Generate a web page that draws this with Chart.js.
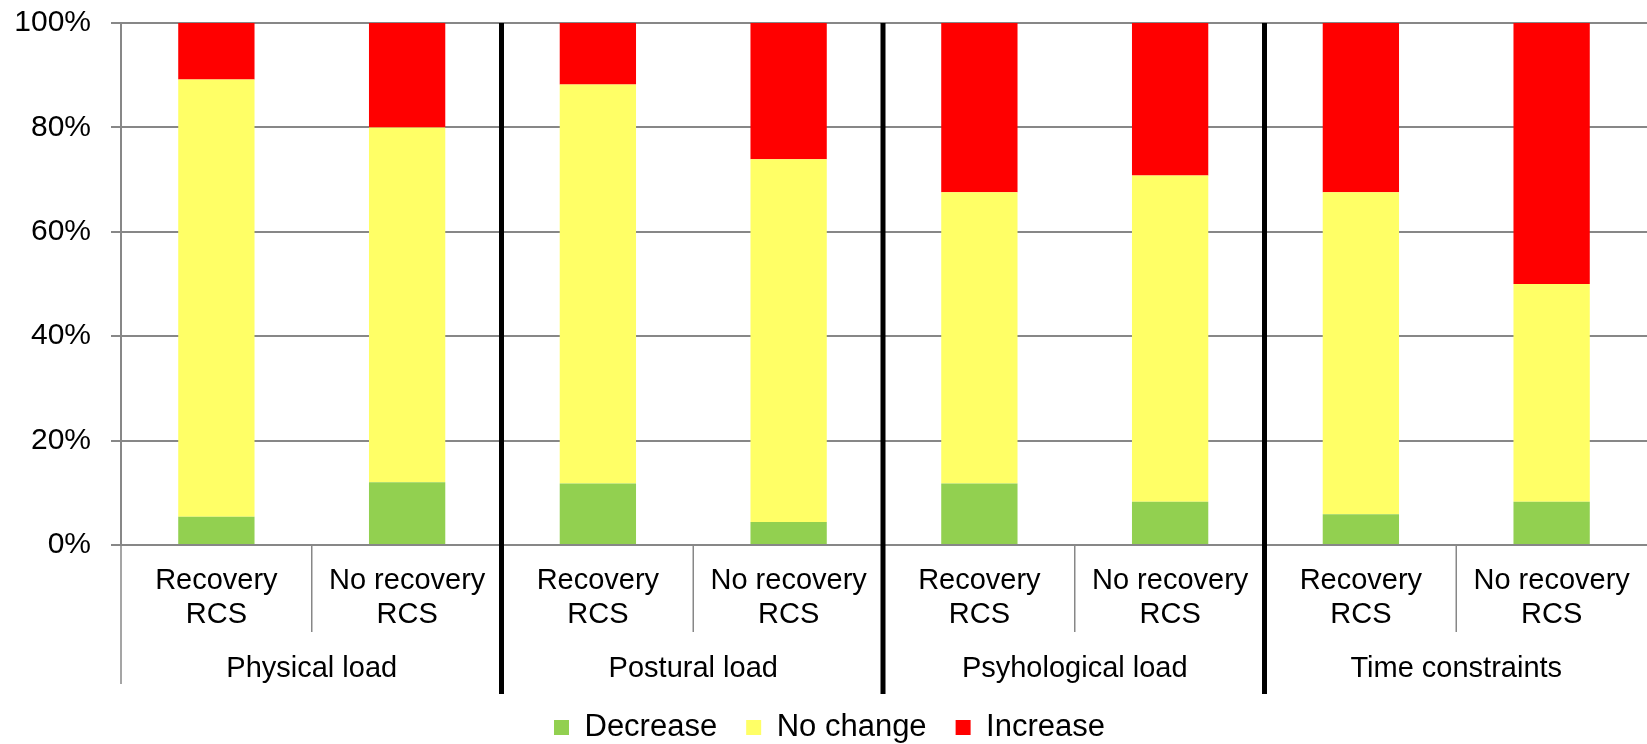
<!DOCTYPE html>
<html>
<head>
<meta charset="utf-8">
<script src="https://cdn.jsdelivr.net/npm/chart.js@4/dist/chart.umd.min.js"></script>
<style>
  html, body { margin: 0; padding: 0; background: #fff; }
  #wrap { width: 1647px; height: 744px; }
</style>
</head>
<body>
<div id="wrap"><canvas id="chart"></canvas></div>
<script>
// values (% of respondents)
var groups = ['Physical load', 'Postural load', 'Psyhological load', 'Time constraints'];
var subgroups = [['Recovery', 'RCS'], ['No recovery', 'RCS']];
var decrease = [5.4, 12.0, 11.8, 4.4, 11.8, 8.3, 5.9, 8.3];
var noChange = [83.8, 68.0, 76.4, 69.5, 55.8, 62.5, 61.7, 41.7];
var increase = [10.8, 20.0, 11.8, 26.1, 32.4, 29.2, 32.4, 50.0];
var yTicks = [0, 20, 40, 60, 80, 100];

var labels = [];
groups.forEach(function () {
    subgroups.forEach(function (s) { labels.push(s); });
});

Chart.defaults.font.family = "'Liberation Sans', Arial, sans-serif";
Chart.defaults.color = '#000';

var gridGray = '#878787';
var fontCss = "29px 'Liberation Sans', Arial, sans-serif";

// group labels, separators under the axis and the thick black dividers
var groupAxis = {
    id: 'groupAxis',
    afterDraw: function (chart) {
        var ctx = chart.ctx;
        var x = chart.scales.x;
        var area = chart.chartArea;
        var mid = function (i) { return (x.getPixelForTick(i) + x.getPixelForTick(i + 1)) / 2; };

        ctx.save();
        ctx.strokeStyle = gridGray;
        ctx.lineWidth = 1.5;
        ctx.beginPath();
        ctx.moveTo(area.left, area.bottom);
        ctx.lineTo(area.left, area.bottom + 139);
        ctx.stroke();

        ctx.font = fontCss;
        ctx.fillStyle = '#000';
        ctx.textAlign = 'center';
        ctx.textBaseline = 'alphabetic';
        groups.forEach(function (g, gi) {
            var px = mid(gi * 2);
            ctx.beginPath();
            ctx.moveTo(px, area.bottom);
            ctx.lineTo(px, area.bottom + 87);
            ctx.stroke();
            ctx.fillText(g, px, area.bottom + 132);
        });

        ctx.strokeStyle = '#000';
        ctx.lineWidth = 5;
        for (var gi = 0; gi < groups.length - 1; gi++) {
            var bx = mid(gi * 2 + 1) - 1;
            ctx.beginPath();
            ctx.moveTo(bx, area.top);
            ctx.lineTo(bx, area.bottom + 149);
            ctx.stroke();
        }
        ctx.restore();
    }
};

var ctx = document.querySelector('#chart').getContext('2d');

var chart = new Chart(ctx, {
    type: 'bar',
    data: {
        labels: labels,
        datasets: [{
            label: 'Decrease',
            data: decrease,
            backgroundColor: '#92D050'
        }, {
            label: 'No change',
            data: noChange,
            backgroundColor: '#FFFF66'
        }, {
            label: 'Increase',
            data: increase,
            backgroundColor: '#FF0000'
        }]
    },
    options: {
        responsive: true,
        maintainAspectRatio: false,
        animation: false,
        devicePixelRatio: 1,
        layout: { padding: { left: 12, right: 0, top: 23, bottom: -9 } },
        datasets: {
            bar: { barPercentage: 0.4, categoryPercentage: 1.0, borderWidth: 0 }
        },
        scales: {
            x: {
                stacked: true,
                grid: { display: false, drawTicks: false },
                border: { display: false },
                ticks: {
                    font: { size: 29, lineHeight: 1.17 },
                    color: '#000',
                    padding: 19,
                    maxRotation: 0,
                    autoSkip: false
                },
                afterFit: function (scale) {
                    scale.height = 138;
                    scale.paddingLeft = 0;
                    scale.paddingRight = 0;
                }
            },
            y: {
                stacked: true,
                min: 0,
                max: 100,
                afterBuildTicks: function (scale) {
                    scale.ticks = yTicks.map(function (v) { return { value: v }; });
                },
                grid: { color: gridGray, lineWidth: 2, tickLength: 10 },
                border: { display: true, color: gridGray, width: 2 },
                ticks: {
                    font: { size: 30 },
                    color: '#000',
                    padding: 20,
                    callback: function (v) { return v + '%'; }
                },
                afterFit: function (scale) {
                    scale.width = 109;
                    scale.paddingTop = 0;
                    scale.paddingBottom = 0;
                }
            }
        },
        plugins: {
            legend: {
                position: 'bottom',
                labels: {
                    boxWidth: 15,
                    boxHeight: 15,
                    padding: 29,
                    color: '#000',
                    font: { size: 31 }
                }
            },
            tooltip: { enabled: false }
        }
    },
    plugins: [groupAxis]
});
</script>
</body>
</html>
